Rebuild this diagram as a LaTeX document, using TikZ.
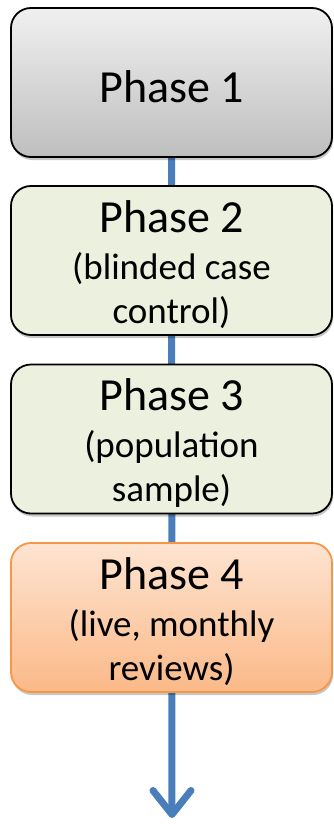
\documentclass[tikz,border=0pt]{standalone}
\usepackage{fontspec}
\setmainfont{Carlito}
\usetikzlibrary{arrows.meta,shadows,backgrounds}
\definecolor{lineblue}{HTML}{4A7EBB}
\definecolor{greenfill}{HTML}{EBF1DE}
\definecolor{orangeborder}{HTML}{F79646}
\definecolor{orangetop}{HTML}{FDE4D1}
\definecolor{orangebot}{HTML}{FBB988}
\definecolor{graytop}{HTML}{F0F0F0}
\definecolor{graybot}{HTML}{BEBEBE}
\tikzset{
  phasebox/.style={rounded corners=20pt, minimum width=321pt, minimum height=149pt,
    line width=1.8pt, align=center, inner sep=0pt,
    font=\fontsize{37}{44}\selectfont,
    drop shadow={shadow xshift=1pt, shadow yshift=-3pt, opacity=0.22, fill=black}},
  grayphase/.style={phasebox, draw=black, top color=graytop, bottom color=graybot},
  greenphase/.style={phasebox, draw=black, fill=greenfill},
  orangephase/.style={phasebox, draw=orangeborder, top color=orangetop, bottom color=orangebot},
  flowline/.style={draw=lineblue, line width=7pt, line cap=round,
    -{Straight Barb[length=24pt, width=38pt, round]}}
}
\newcommand{\phasetitle}[1]{{\fontsize{46}{48}\selectfont\rule{0pt}{40pt}#1}}
\begin{document}
\begin{tikzpicture}[x=1pt, y=1pt]
\useasboundingbox (0,0) rectangle (333,-824);
\node[grayphase] (p1) at (171.5,-82.5) {\phasetitle{Phase 1}};
\node[greenphase] (p2) at (171.5,-260.5) {\phasetitle{Phase 2}\\[3pt](blinded case\\control)};
\node[greenphase] (p3) at (171.5,-439) {\phasetitle{Phase 3}\\[3pt](population\\sample)};
\node[orangephase] (p4) at (171.5,-617.5) {\phasetitle{Phase 4}\\[3pt](live, monthly\\reviews)};
\coordinate (end) at (172,-818);
\begin{scope}[on background layer]
\draw[flowline] (p1.center) -- (end);
\end{scope}
\end{tikzpicture}
\end{document}
